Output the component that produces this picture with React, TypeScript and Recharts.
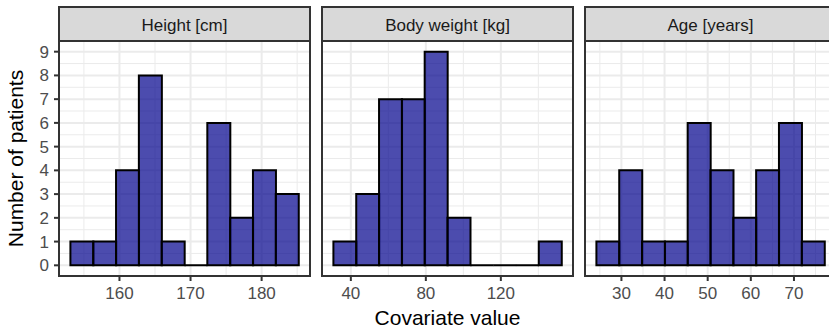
import React from 'react';
import { BarChart, Bar, XAxis, YAxis, CartesianGrid } from 'recharts';

// counts per bin
const heightCounts = [1, 1, 4, 8, 1, 0, 6, 2, 4, 3];
const weightCounts = [1, 3, 7, 7, 9, 2, 0, 0, 0, 1];
const ageCounts = [1, 4, 1, 1, 6, 4, 2, 4, 6, 1];

// first bin edge and bin width of each facet
const binStarts = [153.1, 30.7, 24.2];
const binWidths = [3.21, 12.17, 5.29];

const panelTitles = ['Height [cm]', 'Body weight [kg]', 'Age [years]'];
const xMajorTicks = [
  [160, 170, 180],
  [40, 80, 120],
  [30, 40, 50, 60, 70],
];
const xMinorTicks = [
  [155, 165, 175, 185],
  [60, 100, 140],
  [25, 35, 45, 55, 65, 75],
];
const yTicks = [0, 1, 2, 3, 4, 5, 6, 7, 8, 9];
const yMinorTicks = [0.5, 1.5, 2.5, 3.5, 4.5, 5.5, 6.5, 7.5, 8.5];

const yTitle = 'Number of patients';
const xTitle = 'Covariate value';

const PANEL_W = 251;
const PANEL_H = 235;
const PANEL_TOP = 41;
const STRIP_TOP = 7;
const panelLefts = [59, 322, 585];
const AXIS_W = 59;
const X_AXIS_H = 30;

const fillColor = '#00008B';
const gridColor = '#EBEBEB';
const dark = '#333333';
const tickText = { fill: '#4D4D4D', fontSize: 17 };

const HistShape = (p: any) => {
  const { x, y, width, height } = p;
  return (
    <path
      d={`M${x},${y}h${width}v${height}h${-width}Z`}
      fill={fillColor}
      fillOpacity={0.7}
      stroke="#000"
      strokeWidth={2}
    />
  );
};

const Facet = ({ idx, counts }: { idx: number; counts: number[] }) => {
  const start = binStarts[idx];
  const w = binWidths[idx];
  const rows = counts.map((c, i) => ({ bin: i, lo: start + i * w, count: c }));
  const lo = start;
  const hi = start + counts.length * w;
  const range = hi - lo;
  const domain = [lo - 0.05 * range, hi + 0.05 * range];
  const pad = (PANEL_W * 0.05) / 1.1;
  const showY = idx === 0;
  const chartW = PANEL_W + (showY ? AXIS_W : 0);

  return (
    <div
      style={{
        position: 'absolute',
        left: panelLefts[idx] - (showY ? AXIS_W : 0),
        top: PANEL_TOP,
      }}
    >
      <BarChart
        width={chartW}
        height={PANEL_H + X_AXIS_H}
        data={rows}
        margin={{ top: 0, right: 0, bottom: 0, left: 0 }}
        barCategoryGap={0}
        barGap={0}
      >
        <XAxis
          xAxisId="bin"
          dataKey="bin"
          type="category"
          hide
          height={0}
          padding={{ left: pad, right: pad }}
        />
        <XAxis
          xAxisId="num"
          dataKey="lo"
          type="number"
          domain={domain}
          allowDataOverflow
          ticks={xMajorTicks[idx]}
          interval={0}
          height={X_AXIS_H}
          axisLine={false}
          tickLine={{ stroke: dark, strokeWidth: 2 }}
          tickSize={5}
          tickMargin={6}
          tick={tickText}
        />
        <YAxis
          domain={[-0.45, 9.45]}
          allowDataOverflow
          ticks={yTicks}
          interval={0}
          hide={!showY}
          width={showY ? AXIS_W : 0}
          axisLine={false}
          tickLine={{ stroke: dark, strokeWidth: 2 }}
          tickSize={5}
          tickMargin={5}
          tick={tickText}
        />
        <CartesianGrid
          xAxisId="num"
          stroke={gridColor}
          strokeWidth={1}
          verticalValues={xMinorTicks[idx]}
          horizontalValues={yMinorTicks}
        />
        <CartesianGrid
          xAxisId="num"
          stroke={gridColor}
          strokeWidth={2}
          verticalValues={xMajorTicks[idx]}
          horizontalValues={yTicks}
        />
        <Bar xAxisId="bin" dataKey="count" shape={HistShape} isAnimationActive={false} />
      </BarChart>
    </div>
  );
};

export default function App() {
  const allCounts = [heightCounts, weightCounts, ageCounts];
  return (
    <div
      style={{
        position: 'absolute',
        left: 0,
        top: 0,
        width: 829,
        height: 333,
        overflow: 'hidden',
        background: '#fff',
        fontFamily: '"Liberation Sans", Arial, sans-serif',
      }}
    >
      {allCounts.map((c, i) => (
        <Facet key={i} idx={i} counts={c} />
      ))}
      <svg
        width={829}
        height={333}
        style={{ position: 'absolute', left: 0, top: 0, pointerEvents: 'none' }}
      >
        {panelLefts.map((x, i) => (
          <g key={i}>
            <rect
              x={x}
              y={STRIP_TOP}
              width={PANEL_W}
              height={PANEL_TOP - STRIP_TOP}
              fill="#D9D9D9"
              stroke={dark}
              strokeWidth={2}
            />
            <text x={x + PANEL_W / 2} y={31.2} textAnchor="middle" fontSize={17} fill="#1A1A1A">
              {panelTitles[i]}
            </text>
            <rect x={x} y={PANEL_TOP} width={PANEL_W} height={PANEL_H} fill="none" stroke={dark} strokeWidth={2} />
          </g>
        ))}
        <text
          transform={`translate(22.5, ${PANEL_TOP + PANEL_H / 2}) rotate(-90)`}
          textAnchor="middle"
          fontSize={21}
          fill="#000"
        >
          {yTitle}
        </text>
        <text x={(panelLefts[0] + panelLefts[2] + PANEL_W) / 2} y={325} textAnchor="middle" fontSize={21} fill="#000">
          {xTitle}
        </text>
      </svg>
    </div>
  );
}
